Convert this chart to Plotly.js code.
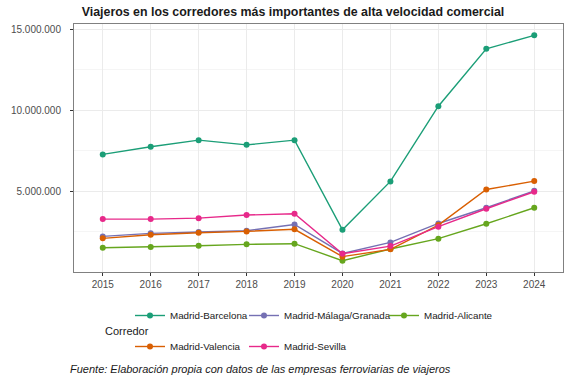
<!DOCTYPE html>
<html><head><meta charset="utf-8">
<script src="https://cdn.plot.ly/plotly-3.0.1.min.js"></script>
<style>html,body{margin:0;padding:0;background:#fff}#chart{width:567px;height:376px}</style>
</head><body><div id="chart"></div>
<script>
const years = [2015,2016,2017,2018,2019,2020,2021,2022,2023,2024];
const corredores = ["Madrid-Barcelona","Madrid-Málaga/Granada","Madrid-Alicante","Madrid-Valencia","Madrid-Sevilla"];
const barcelona = [7270000,7740000,8150000,7860000,8150000,2610000,5600000,10250000,13800000,14630000];
const malaga    = [2200000,2390000,2470000,2550000,2940000,1150000,1830000,3000000,3970000,5020000];
const alicante  = [1500000,1540000,1620000,1710000,1750000,700000,1420000,2060000,2980000,3970000];
const valencia  = [2080000,2300000,2430000,2510000,2640000,950000,1400000,2900000,5100000,5620000];
const sevilla   = [3270000,3270000,3330000,3520000,3600000,1130000,1600000,2800000,3910000,4960000];
const yTicks = [5000000,10000000,15000000];
const yMinorTicks = [2500000,7500000,12500000];
const colores = ["#1B9E77","#7570B3","#66A61E","#D95F02","#E7298A"];
const series = [barcelona, malaga, alicante, valencia, sevilla];
const legendIds = ["legend","legend2","legend3","legend","legend2"];

const FONT = "Liberation Sans, Arial, sans-serif";
const traces = series.map((v,i)=>({
  x: years, y: v, name: corredores[i], type:'scatter', mode:'lines+markers',
  line:{color:colores[i], width:1.4}, marker:{color:colores[i], size:6},
  legend: legendIds[i], legendgroup: corredores[i]
}));

const legendBase = {orientation:'v', xref:'container', yref:'container', xanchor:'left', yanchor:'top',
  font:{family:FONT,size:9.8,color:'#1a1a1a'}, bgcolor:'rgba(0,0,0,0)', traceorder:'grouped', tracegroupgap:12};

const layout = {
  width:567, height:376, separators:',.',
  margin:{l:74, r:4, t:24, b:104, autoexpand:false},
  paper_bgcolor:'#fff', plot_bgcolor:'#fff',
  font:{family:FONT, size:10, color:'#4D4D4D'},
  title:{text:'<b>Viajeros en los corredores más importantes de alta velocidad comercial</b>',
    font:{family:FONT,size:12.4,color:'#1a1a1a'}, x:293/567, xanchor:'center', xref:'container', y:1-12/376, yanchor:'middle', yref:'container'},
  xaxis:{range:[2014.4,2024.6], tickmode:'array', tickvals:years, ticktext:years.map(String), showgrid:true, gridcolor:'#EBEBEB', gridwidth:1,
    zeroline:false, showline:true, mirror:true, linecolor:'#808080', linewidth:1,
    ticks:'outside', ticklen:3, tickcolor:'#333', tickwidth:1, tickfont:{family:FONT,size:10,color:'#4D4D4D'}},
  yaxis:{range:[0,15330000], tickmode:'array', tickvals:yTicks, tickformat:',d', showgrid:true, gridcolor:'#EBEBEB', gridwidth:1,
    minor:{tickmode:'array', tickvals:yMinorTicks, showgrid:true, gridcolor:'#F5F5F5', gridwidth:1, ticks:''},
    zeroline:false, showline:true, mirror:true, linecolor:'#808080', linewidth:1, ticklabelstandoff:7,
    ticks:'outside', ticklen:3, tickcolor:'#333', tickwidth:1, tickfont:{family:FONT,size:10,color:'#4D4D4D'}},
  showlegend:true,
  legend: Object.assign({}, legendBase, {x:130/567, y:1-301/376}),
  legend2: Object.assign({}, legendBase, {x:244/567, y:1-301/376}),
  legend3: Object.assign({}, legendBase, {x:384/567, y:1-301/376}),
  annotations:[
    {text:'Corredor', xref:'paper', yref:'paper', x:(103-74)/489, y:(272-331)/248, xanchor:'left', yanchor:'middle', showarrow:false,
      font:{family:FONT,size:11,color:'#1a1a1a'}},
    {text:'<i>Fuente: Elaboración propia con datos de las empresas ferroviarias de viajeros</i>', xref:'paper', yref:'paper',
      x:(68-74)/489, y:(272-369)/248, xanchor:'left', yanchor:'middle', showarrow:false, font:{family:FONT,size:11,color:'#1a1a1a'}}
  ]
};
Plotly.newPlot('chart', traces, layout, {displayModeBar:false, staticPlot:true});
</script></body></html>
